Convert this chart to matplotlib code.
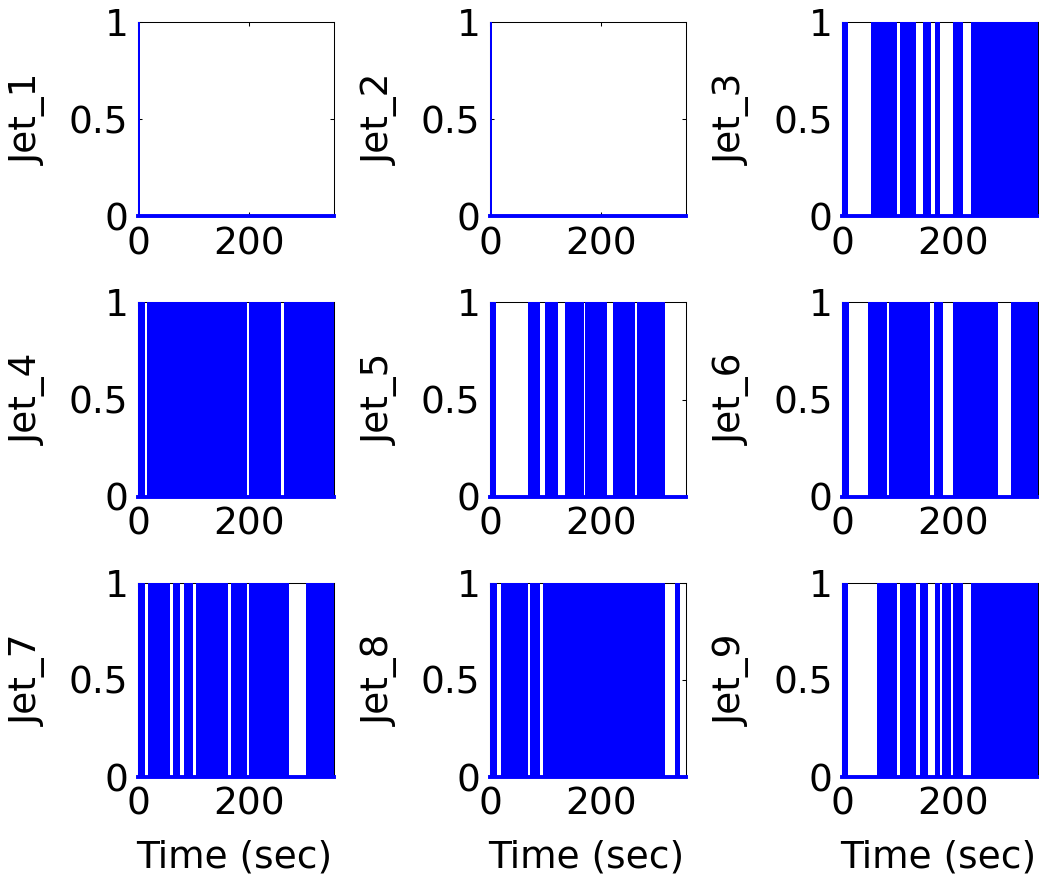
#! /usr/bin/python

"""
Jet firing history: 3 x 3 grid of on/off signals (blue = jet chattering).
"""

# LIBRARIES
import matplotlib as mpl
mpl.use("Agg")
import matplotlib.pyplot as plt


# DATA
# Time span of the simulation (sec)
T_END = 353

# Intervals (start, end) in sec during which each jet is firing
jet_1 = [(0, 4)]
jet_2 = [(0, 4)]
jet_3 = [(0, 10), (51, 99), (104, 133), (145, 160), (167, 176), (200, 217),
         (232, 353)]
jet_4 = [(0, 12.5), (17, 196), (200, 258.5), (263, 353)]
jet_5 = [(0, 11), (67.5, 90), (99, 122), (135.5, 169), (172, 211),
         (221, 261), (265, 315)]
jet_6 = [(0, 12), (47, 81), (84, 159), (166, 181), (199, 280), (304, 353)]
jet_7 = [(0, 13), (18.5, 58.5), (63, 75), (83.5, 100), (104.5, 163),
         (167, 197), (200, 271.6), (303, 353)]
jet_8 = [(0, 12), (19, 67.5), (72, 90), (94.5, 315), (333, 342)]
jet_9 = [(0, 10), (63, 99), (104, 132.5), (140, 155), (167.5, 176.5),
         (179, 196), (200, 217), (232, 353)]

jets = [jet_1, jet_2, jet_3, jet_4, jet_5, jet_6, jet_7, jet_8, jet_9]
labels = ["Jet_1", "Jet_2", "Jet_3", "Jet_4", "Jet_5", "Jet_6", "Jet_7",
          "Jet_8", "Jet_9"]

x_ticks = [0, 200]
y_ticks = [0, 0.5, 1]
y_tick_labels = ["0", "0.5", "1"]


def plotJets():

    # Initialize plot
    mpl.rc("font", size = 27, family = "DejaVu Sans")
    fig, axes = plt.subplots(3, 3, figsize = (10.39, 8.83), dpi = 100)
    fig.subplots_adjust(left = 0.1328, right = 0.999, top = 0.975,
                        bottom = 0.12, wspace = 0.8, hspace = 0.443)

    for i, ax in enumerate(axes.flat):

        # Firing intervals, filled 0 -> 1
        ranges = [(a, b - a) for (a, b) in jets[i]]
        ax.broken_barh(ranges, (0, 1), facecolor = "blue",
                       edgecolor = "none", linewidth = 0, zorder = 3)

        # Baseline at 0
        ax.plot([0, T_END], [0, 0], c = "blue", lw = 2.8, zorder = 3,
                clip_on = False)

        # Axis
        ax.set_xlim(0, T_END)
        ax.set_ylim(0, 1)
        ax.set_xticks(x_ticks)
        ax.set_yticks(y_ticks)
        ax.set_yticklabels(y_tick_labels)
        ax.tick_params(direction = "in", length = 3, width = 0.75,
                       top = True, right = True, pad = 7)
        for s in ax.spines.values():
            s.set_linewidth(0.75)

        ax.set_ylabel(labels[i])
        ax.yaxis.set_label_coords(-0.467, 0.5)

        if i >= 6:
            ax.set_xlabel("Time (sec)")
            ax.xaxis.set_label_coords(0.49, -0.32)

    fig.savefig("out.png", dpi = 100)


def main():

    plotJets()


# Run this when script is called from terminal
if __name__ == "__main__":
    main()
